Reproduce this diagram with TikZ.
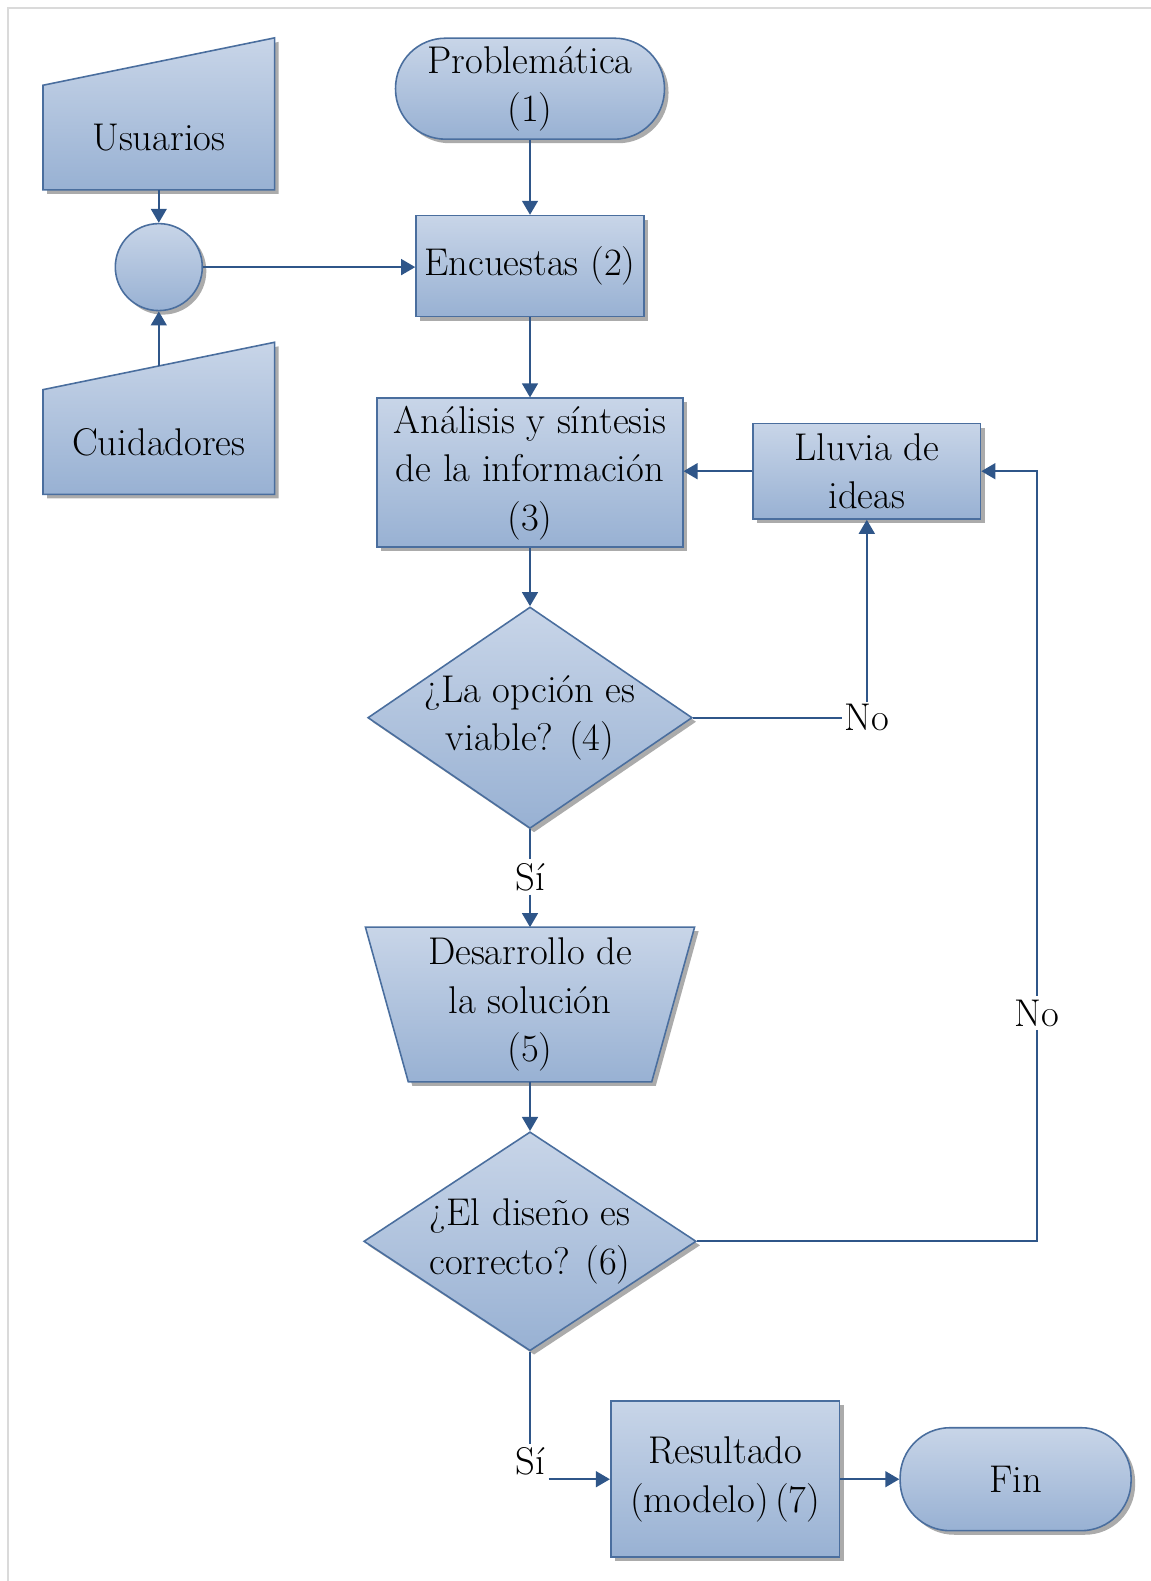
\documentclass[tikz,border=0pt]{standalone}
\usepackage{fontspec}
\usepackage{tikz}
\usetikzlibrary{shapes.geometric, arrows.meta, positioning, shadows, calc, backgrounds}
\definecolor{boxtop}{HTML}{C8D5E8}
\definecolor{boxbottom}{HTML}{98B1D3}
\definecolor{boxline}{HTML}{4A6E9E}
\definecolor{flowblue}{HTML}{2F5689}
\definecolor{framegray}{HTML}{DADADA}
\tikzstyle{fillshade} = [top color=boxtop, bottom color=boxbottom, draw=boxline, line width=0.9pt, drop shadow={shadow xshift=2.3pt, shadow yshift=-2.3pt, fill=black!60, opacity=0.55}]
\tikzstyle{process} = [rectangle, fillshade, align=center, inner sep=2pt]
\tikzstyle{terminal} = [rectangle, rounded corners=1cm, fillshade, align=center]
\tikzstyle{decision} = [diamond, fillshade, inner sep=0pt]
\tikzstyle{plain} = [align=center, inner sep=0pt]
\tikzstyle{arrow} = [line width=1.2pt, -{Triangle[length=8pt, width=9pt]}, color=flowblue]
\tikzstyle{line} = [line width=1.2pt, color=flowblue]

\begin{document}
\begin{tikzpicture}[x=0.02cm, y=-0.02cm, every node/.style={font=\fontsize{22}{27.6}\selectfont}]
    \useasboundingbox (0,0) rectangle (1151,1581);
    \draw[framegray, line width=1.5pt] (8,1581) -- (8,8) -- (1151,8);

    % inputs on the left
    \node[plain, minimum width=4.62cm, minimum height=2.08cm] (usr) at (158.8,137.6) {Usuarios};
    \node[plain, minimum width=4.62cm, minimum height=2.08cm] (cui) at (158.8,442) {Cuidadores};
    \coordinate (cuitop) at ($(cui.north)+(0,-23.7)$);
    \node[circle, fillshade, minimum size=1.74cm, inner sep=0pt] (hub) at (158.8,267.1) {};

    % main flow
    \node[terminal, minimum width=5.38cm, minimum height=2.02cm] (prob) at (530,88.7) {Problemática\\(1)};
    \node[process, minimum width=4.56cm, minimum height=2.02cm] (enc) at (530,266.1) {Encuestas (2)};
    \node[process, minimum width=6.11cm, minimum height=2.98cm] (ana) at (530,472.7) {Análisis y síntesis\\de la información\\(3)};
    \node[process, minimum width=4.55cm, minimum height=1.91cm] (lluv) at (866.8,471.2) {Lluvia de\\ideas};
    \node[decision, minimum width=6.49cm, minimum height=4.43cm, label={[plain]center:{¿La opción es\\viable? (4)}}] (opc) at (530,717.7) {};
    \node[plain, minimum width=6.57cm, minimum height=3.08cm] (des) at (530,1004.5) {Desarrollo de\\la solución\\(5)};
    \node[decision, minimum width=6.65cm, minimum height=4.38cm, label={[plain]center:{¿El diseño es\\correcto? (6)}}] (dis) at (530,1241.3) {};
    \node[process, minimum width=4.58cm, minimum height=3.12cm] (res) at (725.2,1479.2) {Resultado\\(modelo)\,(7)};
    \node[terminal, minimum width=4.62cm, minimum height=2.06cm] (fin) at (1015.6,1479.2) {Fin};

    % branch labels
    \node[inner sep=1pt] (no1) at (866.8,717.7) {No};
    \node[fill=white, inner sep=2pt] (no2) at (1037.2,1013) {No};
    \node[inner sep=2pt] (si1) at (530,877) {Sí};
    \node[inner sep=2pt] (si2) at (530,1461.6) {Sí};

    \begin{scope}[on background layer]
        \path[fillshade] (usr.south west) -- (usr.north west) -- ($(usr.north east)+(0,-47.4)$) -- (usr.south east) -- cycle;
        \path[fillshade] (cui.south west) -- (cui.north west) -- ($(cui.north east)+(0,-47.4)$) -- (cui.south east) -- cycle;
        \path[fillshade] (des.north west) -- (des.north east) -- ($(des.south east)+(-42.85,0)$) -- ($(des.south west)+(42.85,0)$) -- cycle;
    \end{scope}

    \draw[arrow] (usr.south) -- (hub.north);
    \draw[arrow] (cuitop) -- (hub.south);
    \draw[arrow] (hub.east) -- (hub.east -| enc.west);
    \draw[arrow] (prob) -- (enc);
    \draw[arrow] (enc) -- (ana);
    \draw[arrow] (lluv.west) -- (lluv.west -| ana.east);
    \draw[arrow] (ana) -- (opc);
    \draw[line] (opc.east) -- (no1.west);
    \draw[arrow] (no1.north) -- (lluv.south);
    \draw[line] (opc.south) -- (si1.north);
    \draw[arrow] (si1.south) -- (des.north);
    \draw[arrow] (des.south) -- (dis.north);
    \draw[line] (dis.east) -| (no2.south);
    \draw[arrow] (no2.north) |- (lluv.east);
    \draw[line] (dis.south) -- (si2.north);
    \draw[arrow] (si2.east |- res.west) -- (res.west);
    \draw[arrow] (res) -- (fin);
\end{tikzpicture}
\end{document}
